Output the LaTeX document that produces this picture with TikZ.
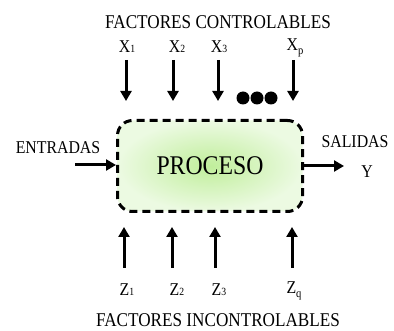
\documentclass[tikz,border=0pt]{standalone}
\usepackage{fontspec}
\setmainfont{Liberation Serif}[FakeStretch=0.88]
\usetikzlibrary{arrows.meta}
\definecolor{gin}{RGB}{192,238,155}
\definecolor{gout}{RGB}{236,250,226}
\newcommand{\sub}[1]{{\fontsize{11}{11}\selectfont #1}}
\newcommand{\low}[1]{\raisebox{-4pt}{\fontsize{12}{12}\selectfont #1}}
\begin{document}
\begin{tikzpicture}[x=1pt,y=-1pt,
  lbl/.style={inner sep=0pt,font=\fontsize{18}{18}\selectfont},
  ttl/.style={inner sep=0pt,font=\fontsize{19.5}{20}\selectfont},
  arr/.style={line width=3pt,-{Triangle[width=11pt,length=10pt]}},
  procbox/.style={draw,line width=3pt,dash pattern=on 8pt off 5pt,rounded corners=15pt,
    minimum width=185pt,minimum height=91pt,inner color=gin,outer color=gout,
    font=\fontsize{27}{27}\selectfont},
  dotn/.style={circle,fill=black,inner sep=0pt,minimum size=13pt}]
\useasboundingbox (0,0) rectangle (394,331);
\node[ttl] (tc) at (218,22) {FACTORES CONTROLABLES};
\node[procbox] (proc) at (210,166) {PROCESO};
\node[lbl] (x1) at (127,47) {X\sub{1}};
\node[lbl] (x2) at (177,47) {X\sub{2}};
\node[lbl] (x3) at (219,47) {X\sub{3}};
\node[lbl] (xp) at (295,48) {X\low{p}};
\coordinate (a1) at (126,101);
\coordinate (a2) at (173,101);
\coordinate (a3) at (218,101);
\coordinate (ap) at (293,101);
\draw[arr] (a1 |- 0,60) -- (a1);
\draw[arr] (a2 |- 0,60) -- (a2);
\draw[arr] (a3 |- 0,60) -- (a3);
\draw[arr] (ap |- 0,60) -- (ap);
\node[dotn] (d1) at (243,98) {};
\node[dotn] (d2) at (257,98) {};
\node[dotn] (d3) at (271,98) {};
\node[lbl] (ent) at (58,148) {ENTRADAS};
\coordinate (ein) at (75,165);
\draw[arr] (ein) -- (proc.west |- ein);
\node[lbl] (sal) at (355,142) {SALIDAS};
\node[lbl] (y) at (367,172) {Y};
\coordinate (sout) at (344,166);
\draw[arr] (proc.east |- sout) -- (sout);
\coordinate (b1) at (124,227);
\coordinate (b2) at (172,227);
\coordinate (b3) at (215,227);
\coordinate (bq) at (292,227);
\draw[arr] (b1 |- 0,268) -- (b1);
\draw[arr] (b2 |- 0,268) -- (b2);
\draw[arr] (b3 |- 0,268) -- (b3);
\draw[arr] (bq |- 0,268) -- (bq);
\node[lbl] (z1) at (127,290) {Z\sub{1}};
\node[lbl] (z2) at (177,290) {Z\sub{2}};
\node[lbl] (z3) at (219,290) {Z\sub{3}};
\node[lbl] (zq) at (294,291) {Z\low{q}};
\node[ttl] (ti) at (218,320) {FACTORES INCONTROLABLES};
\end{tikzpicture}
\end{document}
